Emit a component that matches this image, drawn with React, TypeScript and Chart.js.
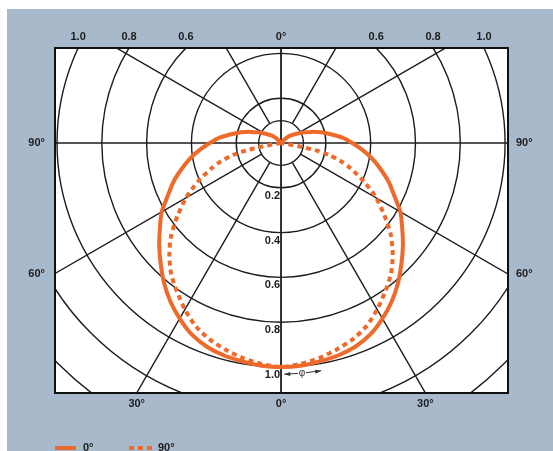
import React, { useEffect, useRef } from 'react';
import { Chart, registerables } from 'chart.js';

Chart.register(...registerables);

// ---- data (angles in degrees from nadir, relative intensity) ----
const solidAngles = [0, 5, 10, 15, 20, 25, 30, 35, 40, 45, 50, 55, 60, 65, 70, 75, 80, 85, 90, 95, 100, 105, 110, 115, 120, 125, 130, 135, 140];
const solidValues = [1.0, 0.998, 0.99, 0.982, 0.968, 0.943, 0.905, 0.862, 0.813, 0.76, 0.71, 0.66, 0.615, 0.558, 0.512, 0.462, 0.415, 0.366, 0.318, 0.275, 0.225, 0.185, 0.145, 0.112, 0.085, 0.063, 0.048, 0.025, 0];
const dottedAngles = [0, 5, 10, 15, 20, 25, 30, 35, 40, 45, 50, 55, 60, 65, 70, 73, 76, 78, 79.5, 81];
const dottedValues = [1.0, 0.99, 0.975, 0.955, 0.933, 0.902, 0.858, 0.81, 0.763, 0.705, 0.64, 0.563, 0.49, 0.41, 0.33, 0.28, 0.22, 0.16, 0.08, 0];
const seriesLabels = ['0°', '90°'];

// ---- grid & tick labels ----
const gridRadii = [0.1, 0.2, 0.4, 0.6, 0.8, 1.0, 1.2, 1.4];
const gridAngles = [0, 30, 60, 90, 120, 150, 180];
const ringLabelValues = [0.2, 0.4, 0.6, 0.8, 1.0];
const ringLabels = ['0.2', '0.4', '0.6', '0.8', '1.0'];
const topTickRadii = [-1.0, -0.8, -0.6, 0, 0.6, 0.8, 1.0];
const topTickLabels = ['1.0', '0.8', '0.6', '0°', '0.6', '0.8', '1.0'];
const bottomTickAngles = [-30, 0, 30];
const bottomTickLabels = ['30°', '0°', '30°'];
const sideTickAngles = [90, 60];
const sideTickLabels = ['90°', '60°'];

const X_MIN = -1.009;
const X_MAX = 1.013;
const Y_MIN = -1.116;
const Y_MAX = 0.424;

const ORANGE = '#ee6a2a';
const BLUE = '#a9b9cc';
const INK = '#1c1c1c';
const FONT_FAMILY = "'Liberation Sans', Arial, Helvetica, sans-serif";
const DEG = Math.PI / 180;

function polarLoop(angles: number[], values: number[]) {
  const pts: { x: number; y: number }[] = [];
  for (let i = angles.length - 1; i >= 0; i--) {
    const a = angles[i] * DEG;
    pts.push({ x: -values[i] * Math.sin(a), y: -values[i] * Math.cos(a) });
  }
  for (let i = 1; i < angles.length; i++) {
    const a = angles[i] * DEG;
    pts.push({ x: values[i] * Math.sin(a), y: -values[i] * Math.cos(a) });
  }
  return pts;
}

const topTickX = topTickRadii.map((r) =>
  r === 0 ? 0 : Math.sign(r) * Math.sqrt(r * r - Y_MAX * Y_MAX)
);
const bottomTickX = bottomTickAngles.map((a) => -Y_MIN * Math.tan(a * DEG));
const leftTickY = sideTickAngles.map((a) => (a === 90 ? 0 : X_MIN / Math.tan(a * DEG)));
const rightTickY = sideTickAngles.map((a) => (a === 90 ? 0 : -X_MAX / Math.tan(a * DEG)));

const tickFont = { family: FONT_FAMILY, size: 11, weight: 'bold' as const };

const polarGridPlugin = {
  id: 'polarGrid',
  beforeDraw(chart: any) {
    const ctx = chart.ctx;
    const { width, height } = chart;
    const a = chart.chartArea;
    ctx.save();
    ctx.fillStyle = '#ffffff';
    ctx.fillRect(0, 0, width, height);
    ctx.fillStyle = BLUE;
    ctx.fillRect(7, 9, width - 7, height - 9);
    ctx.fillStyle = '#ffffff';
    ctx.fillRect(a.left, a.top, a.right - a.left, a.bottom - a.top);
    ctx.restore();
  },
  beforeDatasetsDraw(chart: any) {
    const ctx = chart.ctx;
    const a = chart.chartArea;
    const xs = chart.scales.x;
    const ys = chart.scales.y;
    const cx = xs.getPixelForValue(0);
    const cy = ys.getPixelForValue(0);
    const unit = xs.getPixelForValue(1) - cx;
    ctx.save();
    ctx.beginPath();
    ctx.rect(a.left, a.top, a.right - a.left, a.bottom - a.top);
    ctx.clip();
    ctx.strokeStyle = INK;
    ctx.lineWidth = 1.4;
    gridRadii.forEach((r) => {
      ctx.beginPath();
      ctx.arc(cx, cy, r * unit, 0, Math.PI * 2);
      ctx.stroke();
    });
    gridAngles.forEach((ang) => {
      const start = ang % 90 === 0 ? 0 : gridRadii[0] * unit;
      const end = 3 * unit;
      [1, -1].forEach((side) => {
        const dx = side * Math.sin(ang * DEG);
        const dy = Math.cos(ang * DEG);
        ctx.beginPath();
        ctx.moveTo(cx + dx * start, cy + dy * start);
        ctx.lineTo(cx + dx * end, cy + dy * end);
        ctx.stroke();
      });
    });
    ctx.restore();
  },
  afterDatasetsDraw(chart: any) {
    const ctx = chart.ctx;
    const a = chart.chartArea;
    const xs = chart.scales.x;
    const ys = chart.scales.y;
    const cx = xs.getPixelForValue(0);
    const cy = ys.getPixelForValue(0);
    const unit = xs.getPixelForValue(1) - cx;
    ctx.save();
    // frame
    ctx.strokeStyle = '#111';
    ctx.lineWidth = 2;
    ctx.strokeRect(a.left, a.top, a.right - a.left, a.bottom - a.top);
    // ring labels on the nadir axis
    ctx.fillStyle = INK;
    ctx.font = `bold 11px ${FONT_FAMILY}`;
    ctx.textAlign = 'right';
    ctx.textBaseline = 'middle';
    ringLabelValues.forEach((v, i) => {
      ctx.fillText(ringLabels[i], cx - 1, cy + v * unit + 8);
    });
    // phi arrow
    const R = 1.032 * unit;
    const t0 = 0.8 * DEG;
    const t1 = 10 * DEG;
    ctx.strokeStyle = '#333';
    ctx.fillStyle = '#333';
    ctx.lineWidth = 1;
    ctx.beginPath();
    ctx.arc(cx, cy, R, Math.PI / 2 - t1, Math.PI / 2 - t0);
    ctx.stroke();
    const head = (t: number, dir: number) => {
      const px = cx + R * Math.sin(t);
      const py = cy + R * Math.cos(t);
      const tx = Math.cos(t) * dir;
      const ty = -Math.sin(t) * dir;
      const nx = -ty;
      const ny = tx;
      ctx.beginPath();
      ctx.moveTo(px, py);
      ctx.lineTo(px - tx * 6 + nx * 2, py - ty * 6 + ny * 2);
      ctx.lineTo(px - tx * 6 - nx * 2, py - ty * 6 - ny * 2);
      ctx.closePath();
      ctx.fill();
    };
    head(t0, -1);
    head(t1, 1);
    const tm = 5.2 * DEG;
    const mx = cx + R * Math.sin(tm);
    const my = cy + R * Math.cos(tm);
    ctx.fillStyle = '#ffffff';
    ctx.fillRect(mx - 4, my - 5, 8, 10);
    ctx.fillStyle = '#333';
    ctx.font = `10px ${FONT_FAMILY}`;
    ctx.textAlign = 'center';
    ctx.textBaseline = 'middle';
    ctx.fillText('φ', mx, my);
    ctx.restore();
  },
  afterDraw(chart: any) {
    const ctx = chart.ctx;
    const legendY = 448;
    const items = [
      { x0: 55, x1: 76, tx: 83 },
      { x0: 129, x1: 153, tx: 158 },
    ];
    ctx.save();
    chart.data.datasets.forEach((ds: any, i: number) => {
      const it = items[i];
      ctx.strokeStyle = ds.borderColor;
      ctx.lineWidth = ds.borderWidth;
      ctx.setLineDash(ds.borderDash || []);
      ctx.beginPath();
      ctx.moveTo(it.x0, legendY);
      ctx.lineTo(it.x1, legendY);
      ctx.stroke();
      ctx.setLineDash([]);
      ctx.fillStyle = INK;
      ctx.font = `bold 11px ${FONT_FAMILY}`;
      ctx.textAlign = 'left';
      ctx.textBaseline = 'middle';
      ctx.fillText(ds.label, it.tx, legendY);
    });
    ctx.restore();
  },
};

const baseScale = {
  type: 'linear' as const,
  grid: { display: false, drawTicks: false },
  border: { display: false },
};

export default function App() {
  const canvasRef = useRef<HTMLCanvasElement | null>(null);

  useEffect(() => {
    const canvas = canvasRef.current;
    if (!canvas) return;
    const chart = new Chart(canvas, {
      type: 'scatter',
      data: {
        datasets: [
          {
            label: seriesLabels[0],
            data: polarLoop(solidAngles, solidValues),
            showLine: true,
            borderColor: ORANGE,
            backgroundColor: ORANGE,
            borderWidth: 4,
            pointRadius: 0,
            tension: 0.25,
            fill: false,
            xAxisID: 'x',
            yAxisID: 'y',
          },
          {
            label: seriesLabels[1],
            data: polarLoop(dottedAngles, dottedValues),
            showLine: true,
            borderColor: ORANGE,
            backgroundColor: ORANGE,
            borderWidth: 4,
            borderDash: [5, 4],
            pointRadius: 0,
            tension: 0.25,
            fill: false,
            xAxisID: 'x',
            yAxisID: 'y',
          },
        ],
      },
      options: {
        responsive: false,
        animation: false,
        devicePixelRatio: 1,
        layout: { padding: 0 },
        plugins: {
          legend: { display: false },
          tooltip: { enabled: false },
        },
        scales: {
          x: {
            ...baseScale,
            position: 'top',
            min: X_MIN,
            max: X_MAX,
            afterBuildTicks: (s: any) => {
              s.ticks = topTickX.map((v) => ({ value: v }));
            },
            afterFit: (s: any) => {
              s.height = 48;
            },
            ticks: {
              autoSkip: false,
              maxRotation: 0,
              minRotation: 0,
              padding: 4,
              color: INK,
              font: tickFont,
              callback: (_v: any, i: number) => topTickLabels[i],
            },
          },
          x2: {
            ...baseScale,
            position: 'bottom',
            min: X_MIN,
            max: X_MAX,
            afterBuildTicks: (s: any) => {
              s.ticks = bottomTickX.map((v) => ({ value: v }));
            },
            afterFit: (s: any) => {
              s.height = 58;
            },
            ticks: {
              autoSkip: false,
              maxRotation: 0,
              minRotation: 0,
              padding: 4,
              color: INK,
              font: tickFont,
              callback: (_v: any, i: number) => bottomTickLabels[i],
            },
          },
          y: {
            ...baseScale,
            position: 'left',
            min: Y_MIN,
            max: Y_MAX,
            afterBuildTicks: (s: any) => {
              s.ticks = leftTickY.map((v) => ({ value: v }));
            },
            afterFit: (s: any) => {
              s.width = 55;
            },
            ticks: {
              autoSkip: false,
              padding: 10,
              color: INK,
              font: tickFont,
              callback: (_v: any, i: number) => sideTickLabels[i],
            },
          },
          y2: {
            ...baseScale,
            position: 'right',
            min: Y_MIN,
            max: Y_MAX,
            afterBuildTicks: (s: any) => {
              s.ticks = rightTickY.map((v) => ({ value: v }));
            },
            afterFit: (s: any) => {
              s.width = 45;
            },
            ticks: {
              autoSkip: false,
              padding: 8,
              color: INK,
              font: tickFont,
              callback: (_v: any, i: number) => sideTickLabels[i],
            },
          },
        },
      } as any,
      plugins: [polarGridPlugin],
    });
    return () => chart.destroy();
  }, []);

  return (
    <div
      style={{
        position: 'fixed',
        left: 0,
        top: 0,
        width: 553,
        height: 451,
        overflow: 'hidden',
        background: '#fff',
      }}
    >
      <canvas ref={canvasRef} width={553} height={451} style={{ display: 'block' }} />
    </div>
  );
}
